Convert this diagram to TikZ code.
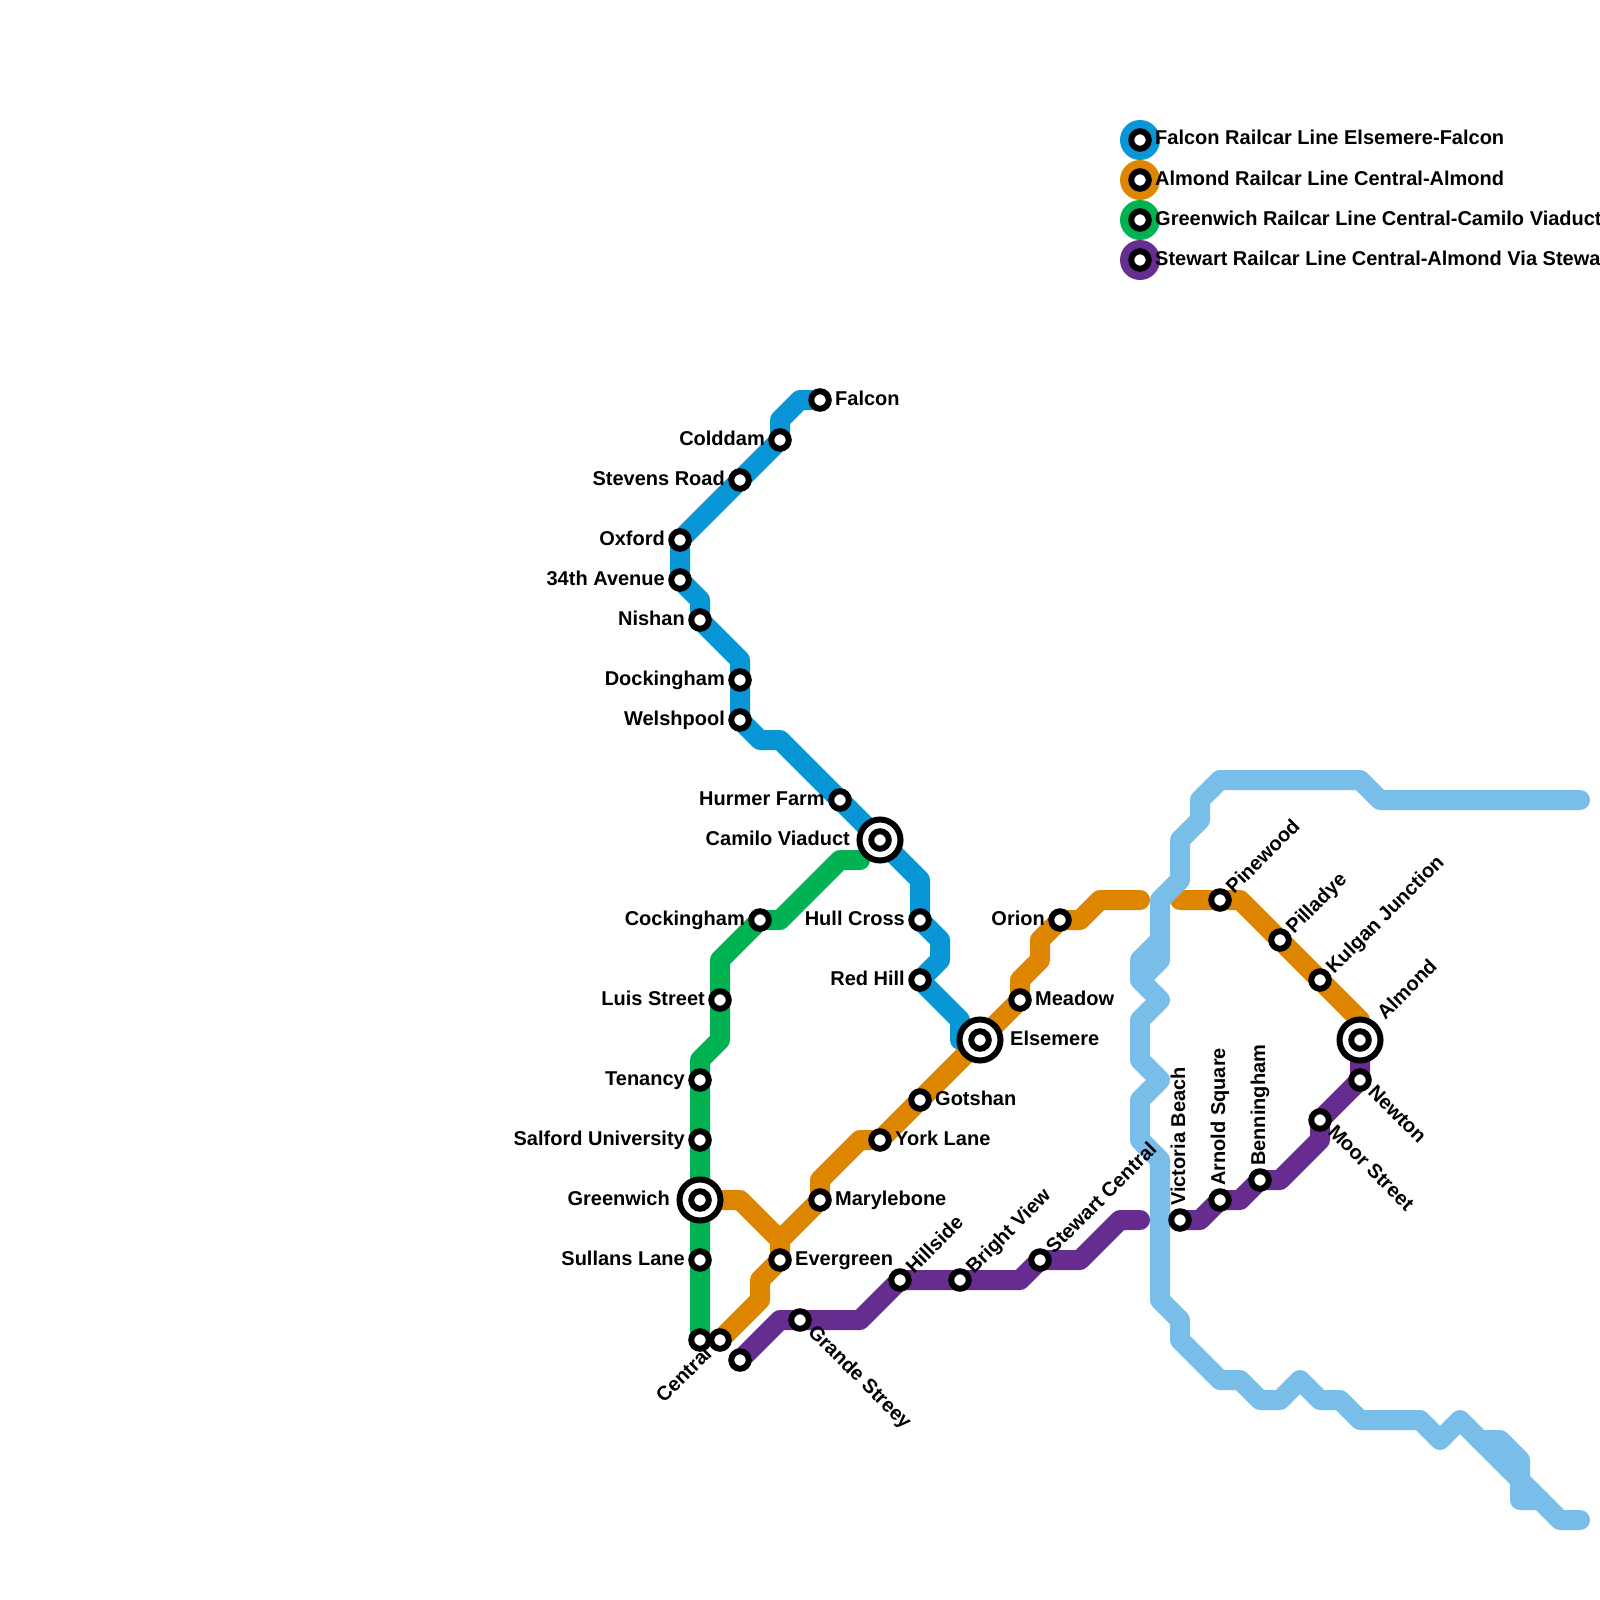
\documentclass[tikz,border=0pt]{standalone}
\usepackage{fontspec}
\setmainfont{Liberation Sans}
\definecolor{RailBlue}{HTML}{0896D7}
\definecolor{RailOrange}{HTML}{DF8600}
\definecolor{RailGreen}{HTML}{00B251}
\definecolor{RailPurple}{HTML}{662C90}
\definecolor{RailRiver}{HTML}{79BDE9}
\usetikzlibrary{backgrounds}

\begin{document}
\begin{tikzpicture}[
    x=20pt, y=-20pt,
    stn/.style={circle, draw=black, fill=white, line width=6pt, minimum size=17.5pt, inner sep=0pt},
    hub/.style={circle, draw=black, fill=white, line width=6pt, minimum size=41pt, inner sep=0pt},
    keydot/.style={circle, fill=#1, minimum size=40pt, inner sep=0pt},
    rail/.style={draw=#1, line width=20pt, line cap=round, line join=round},
    nametxt/.style={font=\fontsize{20}{22}\selectfont\bfseries, inner sep=0pt},
    namew/.style={nametxt, anchor=base east, xshift=-15pt, yshift=-5pt},
    namee/.style={nametxt, anchor=base west, xshift=15pt, yshift=-5pt},
    hubw/.style={nametxt, anchor=base east, xshift=-30pt, yshift=-5pt},
    hube/.style={nametxt, anchor=base west, xshift=30pt, yshift=-5pt},
    namene/.style={nametxt, anchor=base west, xshift=14pt, yshift=5.5pt, rotate=45},
    namese/.style={nametxt, anchor=base west, xshift=7pt, yshift=-13pt, rotate=-45},
    namesw/.style={nametxt, anchor=base east, xshift=13pt, yshift=-15pt, rotate=45},
    namen/.style={nametxt, anchor=base west, xshift=5pt, yshift=14pt, rotate=90}
]
    \clip (0,0) rectangle (80,80);
    % legend
    \node[keydot=RailBlue]   (keyfalcon)  at (57, 7) {};
    \node[keydot=RailOrange] (keyalmond)  at (57, 9) {};
    \node[keydot=RailGreen]  (keygreen)   at (57,11) {};
    \node[keydot=RailPurple] (keystewart) at (57,13) {};
    \node[stn] (keyfalconS)  at (keyfalcon) {};
    \node[stn] (keyalmondS)  at (keyalmond) {};
    \node[stn] (keygreenS)   at (keygreen) {};
    \node[stn] (keystewartS) at (keystewart) {};
    \node[namee] (keyfalconL)  at (keyfalcon) {Falcon Railcar Line Elsemere-Falcon};
    \node[namee] (keyalmondL)  at (keyalmond) {Almond Railcar Line Central-Almond};
    \node[namee] (keygreenL)   at (keygreen) {Greenwich Railcar Line Central-Camilo Viaduct};
    \node[namee] (keystewartL) at (keystewart) {Stewart Railcar Line Central-Almond Via Stewa};
    % falcon line stations
    \node[stn] (falcon)   at (41,20) {};
    \node[stn] (colddam)  at (39,22) {};
    \node[stn] (stevens)  at (37,24) {};
    \node[stn] (oxford)   at (34,27) {};
    \node[stn] (avenue)   at (34,29) {};
    \node[stn] (nishan)   at (35,31) {};
    \node[stn] (docking)  at (37,34) {};
    \node[stn] (welsh)    at (37,36) {};
    \node[stn] (hurmer)   at (42,40) {};
    \node[hub] (camilo)   at (44,42) {};
    \node[stn] (camiloS)  at (camilo) {};
    \node[stn] (hull)     at (46,46) {};
    \node[stn] (redhill)  at (46,49) {};
    \node[hub] (elsemere) at (49,52) {};
    \node[stn] (elsemereS) at (elsemere) {};
    % greenwich line stations
    \node[stn] (cocking)  at (38,46) {};
    \node[stn] (luis)     at (36,50) {};
    \node[stn] (tenancy)  at (35,54) {};
    \node[stn] (salford)  at (35,57) {};
    \node[hub] (greenwich) at (35,60) {};
    \node[stn] (greenwichS) at (greenwich) {};
    \node[stn] (sullans)  at (35,63) {};
    \node[stn] (centralA) at (35,67) {};
    % almond line stations
    \node[stn] (centralB) at (36,67) {};
    \node[stn] (evergreen) at (39,63) {};
    \node[stn] (maryle)   at (41,60) {};
    \node[stn] (york)     at (44,57) {};
    \node[stn] (gotshan)  at (46,55) {};
    \node[stn] (meadow)   at (51,50) {};
    \node[stn] (orion)    at (53,46) {};
    \node[stn] (pinewood) at (61,45) {};
    \node[stn] (pilladye) at (64,47) {};
    \node[stn] (kulgan)   at (66,49) {};
    \node[hub] (almond)   at (68,52) {};
    \node[stn] (almondS)  at (almond) {};
    % stewart line stations
    \node[stn] (centralC) at (37,68) {};
    \node[stn] (grande)   at (40,66) {};
    \node[stn] (hillside) at (45,64) {};
    \node[stn] (bright)   at (48,64) {};
    \node[stn] (stewart)  at (52,63) {};
    \node[stn] (victoria) at (59,61) {};
    \node[stn] (arnold)   at (61,60) {};
    \node[stn] (benning)  at (63,59) {};
    \node[stn] (moor)     at (66,56) {};
    \node[stn] (newton)   at (68,54) {};
    % lines and names go under the stations
    \begin{scope}[on background layer]
        \draw[rail=RailGreen] (43,43) -- (42,43) -- (39,46) -- (cocking.center) -- (36,48) -- (luis.center) -- (36,52)
            -- (35,53) -- (tenancy.center) -- (salford.center) -- (greenwich.center) -- (sullans.center) -- (centralA.center);
        \draw[rail=RailOrange] (centralB.center) -- (38,65) -- (38,64) -- (evergreen.center) -- (39,62) -- (maryle.center)
            -- (41,59) -- (43,57) -- (york.center) -- (gotshan.center) -- (elsemere.center) -- (meadow.center) -- (51,49)
            -- (52,48) -- (52,47) -- (orion.center) -- (54,46) -- (55,45) -- (57,45);
        \draw[rail=RailOrange] (greenwich.center) -- (37,60) -- (39,62);
        \draw[rail=RailOrange] (59,45) -- (pinewood.center) -- (62,45) -- (pilladye.center) -- (kulgan.center) -- (68,51) -- (almond.center);
        \draw[rail=RailBlue] (falcon.center) -- (40,20) -- (39,21) -- (colddam.center) -- (stevens.center) -- (oxford.center)
            -- (avenue.center) -- (35,30) -- (nishan.center) -- (37,33) -- (docking.center) -- (welsh.center) -- (38,37) -- (39,37)
            -- (hurmer.center) -- (camilo.center) -- (46,44) -- (hull.center) -- (47,47) -- (47,48) -- (redhill.center) -- (48,51) -- (48,52);
        \draw[rail=RailPurple] (centralC.center) -- (39,66) -- (grande.center) -- (43,66) -- (hillside.center) -- (bright.center)
            -- (51,64) -- (stewart.center) -- (54,63) -- (56,61) -- (57,61);
        \draw[rail=RailPurple] (victoria.center) -- (60,61) -- (arnold.center) -- (62,60) -- (benning.center) -- (64,59) -- (66,57)
            -- (moor.center) -- (newton.center) -- (almond.center);
        % river
        \draw[rail=RailRiver] (79,40) -- (69,40) -- (68,39) -- (61,39) -- (60,40) -- (60,41) -- (59,42) -- (59,44) -- (58,45) -- (58,48)
            -- (57,49) -- (57,48) -- (58,47) -- (57,48) -- (57,49) -- (58,50) -- (57,51) -- (57,53) -- (58,54) -- (57,55) -- (57,57)
            -- (58,58) -- (58,65) -- (59,66) -- (59,67) -- (61,69) -- (62,69) -- (63,70) -- (64,70) -- (65,69) -- (66,70) -- (67,70)
            -- (68,71) -- (71,71) -- (72,72) -- (73,71) -- (78,76) -- (79,76);
        \draw[rail=RailRiver] (74,72) -- (75,72) -- (76,73) -- (76,75) -- (77,75);
        % names
        \node[namee] (falconL)  at (falcon) {Falcon};
        \node[namew] (colddamL) at (colddam) {Colddam};
        \node[namew] (stevensL) at (stevens) {Stevens Road};
        \node[namew] (oxfordL)  at (oxford) {Oxford};
        \node[namew] (avenueL)  at (avenue) {34th Avenue};
        \node[namew] (nishanL)  at (nishan) {Nishan};
        \node[namew] (dockingL) at (docking) {Dockingham};
        \node[namew] (welshL)   at (welsh) {Welshpool};
        \node[namew] (hurmerL)  at (hurmer) {Hurmer Farm};
        \node[hubw]  (camiloL)  at (camilo) {Camilo Viaduct};
        \node[namew] (hullL)    at (hull) {Hull Cross};
        \node[namew] (redhillL) at (redhill) {Red Hill};
        \node[hube]  (elsemereL) at (elsemere) {Elsemere};
        \node[namew] (cockingL) at (cocking) {Cockingham};
        \node[namew] (luisL)    at (luis) {Luis Street};
        \node[namew] (tenancyL) at (tenancy) {Tenancy};
        \node[namew] (salfordL) at (salford) {Salford University};
        \node[hubw]  (greenwichL) at (greenwich) {Greenwich};
        \node[namew] (sullansL) at (sullans) {Sullans Lane};
        \node[namesw] (centralL) at (centralA) {Central};
        \node[namee] (evergreenL) at (evergreen) {Evergreen};
        \node[namee] (maryleL)  at (maryle) {Marylebone};
        \node[namee] (yorkL)    at (york) {York Lane};
        \node[namee] (gotshanL) at (gotshan) {Gotshan};
        \node[namee] (meadowL)  at (meadow) {Meadow};
        \node[namew] (orionL)   at (orion) {Orion};
        \node[namene] (pinewoodL) at (pinewood) {Pinewood};
        \node[namene] (pilladyeL) at (pilladye) {Pilladye};
        \node[namene] (kulganL) at (kulgan) {Kulgan Junction};
        \node[namene, xshift=18pt, yshift=2pt] (almondL) at (almond) {Almond};
        \node[namese] (grandeL) at (grande) {Grande Streey};
        \node[namene] (hillsideL) at (hillside) {Hillside};
        \node[namene] (brightL) at (bright) {Bright View};
        \node[namene] (stewartL) at (stewart) {Stewart Central};
        \node[namen] (victoriaL) at (victoria) {Victoria Beach};
        \node[namen] (arnoldL)  at (arnold) {Arnold Square};
        \node[namen] (benningL) at (benning) {Benningham};
        \node[namese] (moorL)   at (moor) {Moor Street};
        \node[namese] (newtonL) at (newton) {Newton};
    \end{scope}
\end{tikzpicture}
\end{document}
